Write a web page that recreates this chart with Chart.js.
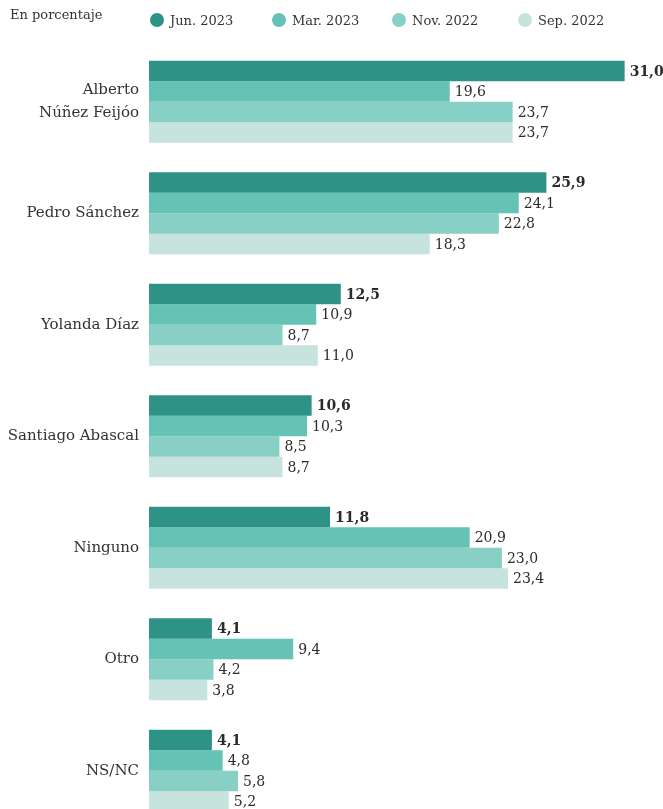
<!DOCTYPE html>
<html><head><meta charset="utf-8">
<script src="https://cdn.jsdelivr.net/npm/chart.js@4/dist/chart.umd.min.js"></script>
<style>
html,body{margin:0;padding:0;background:#fff;overflow:hidden;width:663px;height:809px;}
#wrap{position:relative;width:663px;height:859px;}
#legend{position:absolute;left:0;top:0;width:663px;height:40px;font-family:"DejaVu Serif",serif;font-size:13px;color:#333;}
#legend .note{position:absolute;left:10px;top:7px;}
#legend .item{position:absolute;top:13px;white-space:nowrap;}
#legend .dot{display:inline-block;width:14px;height:14px;border-radius:50%;vertical-align:-2px;margin-right:6px;}
canvas{position:absolute;left:0;top:0;}
</style></head>
<body>
<div id="wrap">
<canvas id="c" width="663" height="859"></canvas>
<div id="legend"></div>
</div>
<script>
const categories = [["Alberto","Núñez Feijóo"],"Pedro Sánchez","Yolanda Díaz","Santiago Abascal","Ninguno","Otro","NS/NC"];
const seriesNames = ["Jun. 2023","Mar. 2023","Nov. 2022","Sep. 2022"];
const jun2023 = [31.0,25.9,12.5,10.6,11.8,4.1,4.1];
const mar2023 = [19.6,24.1,10.9,10.3,20.9,9.4,4.8];
const nov2022 = [23.7,22.8,8.7,8.5,23.0,4.2,5.8];
const sep2022 = [23.7,18.3,11.0,8.7,23.4,3.8,5.2];
const colors = ["#2f9287","#66c2b4","#88cfc5","#c7e3de"];
const legendX = [150,272,392,518];

const FONT = '"DejaVu Serif", serif';

// HTML legend
const lg = document.getElementById('legend');
lg.innerHTML = '<span class="note">En porcentaje</span>' + seriesNames.map((n,i)=>
  `<span class="item" style="left:${legendX[i]}px"><span class="dot" style="background:${colors[i]}"></span>${n}</span>`).join('');

const valueLabels = {
  id:'valueLabels',
  afterDatasetsDraw(chart){
    const ctx = chart.ctx;
    ctx.save();
    ctx.textBaseline='middle';
    ctx.textAlign='left';
    chart.data.datasets.forEach((ds,di)=>{
      const meta = chart.getDatasetMeta(di);
      meta.data.forEach((bar,i)=>{
        ctx.font = (di===0?'bold ':'') + '14px ' + FONT;
        ctx.fillStyle = '#2b2b2b';
        ctx.fillText(ds.data[i].toFixed(1).replace('.',','), bar.x+5, bar.y+1);
      });
    });
    ctx.restore();
  }
};

new Chart(document.getElementById('c'),{
  type:'bar',
  data:{
    labels:categories,
    datasets:[jun2023,mar2023,nov2022,sep2022].map((d,i)=>({
      label:seriesNames[i], data:d, backgroundColor:colors[i], borderWidth:0,
      categoryPercentage:0.735, barPercentage:1.0
    }))
  },
  options:{
    indexAxis:'y',
    responsive:false,
    animation:false,
    devicePixelRatio:1,
    layout:{padding:{top:46,left:0,right:0,bottom:0}},
    plugins:{legend:{display:false},tooltip:{enabled:false},title:{display:false}},
    scales:{
      x:{display:false,min:0,max:33.5},
      y:{
        grid:{display:false,drawTicks:false},
        border:{display:false},
        ticks:{color:'#333',font:{family:FONT,size:15,lineHeight:1.5},padding:10,autoSkip:false},
        afterFit(s){ s.width = 149; }
      }
    }
  },
  plugins:[valueLabels]
});
</script>
</body></html>
